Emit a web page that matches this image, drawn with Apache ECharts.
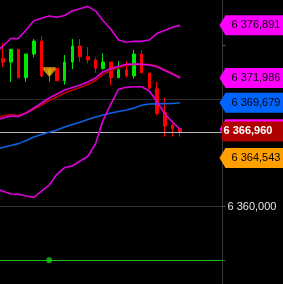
<!DOCTYPE html>
<html>
<head>
<meta charset="utf-8">
<style>
html,body{margin:0;padding:0;background:#000;}
#chart{width:283px;height:284px;}
</style>
<script src="https://cdn.jsdelivr.net/npm/echarts@6/dist/echarts.min.js"></script>
</head>
<body>
<div id="chart"></div>
<script>
// Categories (bar slots); slot 0 is just off-screen on the left
const categories = ['1','2','3','4','5','6','7','8','9','10','11','12','13','14','15','16','17','18','19','20','21','22','23','24','25','26','27','28','29','30'];

const opens  = [null, 6373783, 6373475, 6374659, 6372012, 6374221, 6375432, 6372264, 6372888, 6371733, 6373475, 6374966, 6373969, 6373662, 6372888, 6373475, 6372012, 6372758, 6372171, 6374221, 6372450, 6370988, 6368752, 6367578, 6367261];
const closes = [null, 6373447, 6374659, 6372012, 6374221, 6375432, 6372171, 6372730, 6371733, 6373475, 6374966, 6373969, 6373662, 6372888, 6373475, 6372012, 6372758, 6372171, 6374221, 6372478, 6371025, 6368696, 6367512, 6367261, 6366960];
const lows   = [null, 6373009, 6371640, 6372012, 6371640, 6373913, 6372080, 6371640, 6371733, 6371360, 6372823, 6373475, 6373354, 6372478, 6372730, 6371304, 6372012, 6372012, 6371919, 6372478, 6371025, 6368472, 6366515, 6366515, 6366515];
const highs  = [null, 6375245, 6374700, 6374659, 6374221, 6375618, 6375898, 6372916, 6372888, 6374127, 6375618, 6375618, 6374873, 6373913, 6374286, 6373475, 6373568, 6373568, 6374593, 6374593, 6372450, 6371640, 6370149, 6367764, 6367261];

const bbUpper  = [6374360, 6374966, 6375665, 6375683, 6376457, 6377314, 6377547, 6377761, 6377640, 6377808, 6378255, 6378441, 6378665, 6378246, 6377323, 6376531, 6375525, 6375311, 6375404, 6375404, 6375525, 6376149, 6376410, 6376708, 6376891];
const bbMiddle = [6368071, 6368258, 6368444, 6368397, 6368724, 6369189, 6369655, 6370121, 6370494, 6370866, 6371099, 6371332, 6371612, 6371985, 6372571, 6372870, 6373084, 6373261, 6373289, 6373261, 6373196, 6373028, 6372683, 6372357, 6371986];
const bbLower  = [6361689, 6361438, 6361177, 6361149, 6360990, 6360869, 6361456, 6362015, 6363012, 6363646, 6363786, 6364251, 6364671, 6365835, 6368071, 6369562, 6370941, 6371118, 6371174, 6371174, 6370773, 6369776, 6368630, 6367885, 6367205];
const maRed    = [6368258, 6368444, 6368584, 6368491, 6368724, 6369096, 6369469, 6369888, 6370214, 6370587, 6370866, 6371099, 6371379, 6371752, 6372339, 6372683, 6372944, 6373168, 6373242, 6373261, 6373242, 6373075, 6372730, 6372404, 6372031];
const maBlue   = [6365323, 6365528, 6365695, 6365873, 6366161, 6366488, 6366720, 6366925, 6367140, 6367419, 6367652, 6367857, 6368118, 6368351, 6368537, 6368724, 6368863, 6369003, 6369189, 6369441, 6369562, 6369581, 6369599, 6369609, 6369679];

const signalIndex = 7;
const signalPrice = 6372544;
const signalLevel = 6355000;
const lastPrice = 6366960;

const tagValues = [6376891, 6371986, 6369679, 6367205, 6364543, 6366960];
const tagFills  = ['#ff00ff', '#ff00ff', '#0064ff', '#ff00ff', '#ffa000', '#b00000'];
const tagText   = ['#000000', '#000000', '#000000', '#000000', '#000000', '#ffffff'];
const tagKinds  = ['arrow', 'arrow', 'arrow', 'arrow', 'arrow', 'box'];

const yTickValues = { min: 6350000, max: 6380000, interval: 10000 };

function fmt(v) {
  const m = Math.floor(v / 1e6);
  const t = Math.floor((v % 1e6) / 1000);
  const u = Math.round(v % 1000);
  return m + ' ' + String(t).padStart(3, '0') + ',' + String(u).padStart(3, '0');
}

const candleData = opens.map((o, i) => o == null ? '-' : [o, closes[i], lows[i], highs[i]]);

const chart = echarts.init(document.getElementById('chart'), null, { renderer: 'canvas' });

const lineBase = { type: 'line', showSymbol: false, symbol: 'none', z: 5, animation: false, silent: true };

chart.setOption({
  backgroundColor: '#000000',
  animation: false,
  grid: { left: -8.5, right: 60.5, top: -8, bottom: -30, outerBoundsMode: 'none', containLabel: false },
  xAxis: {
    type: 'category', data: categories, boundaryGap: true, show: false
  },
  yAxis: {
    type: 'value', position: 'right', scale: true,
    min: yTickValues.min, max: yTickValues.max, interval: yTickValues.interval,
    axisLine: { show: true, lineStyle: { color: '#3a3a3a', width: 1 } },
    axisTick: { show: true, length: 3, lineStyle: { color: '#555' } },
    minorTick: { show: true, splitNumber: 2, length: 3, lineStyle: { color: '#555' } },
    splitLine: { show: true, lineStyle: { color: '#2e2e2e', width: 1 } },
    axisLabel: { color: '#e6e6e6', fontSize: 11, fontFamily: 'Liberation Sans, Arial', margin: 5, formatter: fmt }
  },
  series: [
    {
      type: 'candlestick', data: candleData, barWidth: 3, z: 3, silent: true,
      itemStyle: { color: '#00e600', color0: '#ff0000', borderColor: '#00e600', borderColor0: '#ff0000', borderWidth: 1 },
      markLine: {
        silent: true, symbol: 'none', animation: false, label: { show: false },
        data: [
          { yAxis: lastPrice, lineStyle: { color: '#b8b8b8', width: 1, type: 'solid' } },
          { yAxis: signalLevel, lineStyle: { color: '#22bb22', width: 1, type: 'solid' } }
        ]
      }
    },
    Object.assign({}, lineBase, { data: maBlue,   lineStyle: { color: '#1060e0', width: 1.6 } }),
    Object.assign({}, lineBase, { data: maRed,    lineStyle: { color: '#c00000', width: 1.6 } }),
    Object.assign({}, lineBase, { data: bbMiddle, lineStyle: { color: '#dd00dd', width: 1.6 } }),
    Object.assign({}, lineBase, { data: bbUpper,  lineStyle: { color: '#dd00dd', width: 1.6 } }),
    Object.assign({}, lineBase, { data: bbLower,  lineStyle: { color: '#dd00dd', width: 1.6 } }),
    {
      type: 'scatter', z: 8, silent: true,
      symbol: 'path://M0,0 L12,0 L12,2 L6,8 L0,2 Z', symbolSize: [12, 9],
      itemStyle: { color: '#ffa010', borderColor: '#e58a00', borderWidth: 0.8 },
      data: [[signalIndex, signalPrice]]
    },
    {
      type: 'scatter', z: 8, silent: true, symbol: 'circle', symbolSize: 6,
      itemStyle: { color: '#11cc11' },
      data: [[signalIndex, signalLevel]]
    },
    {
      type: 'custom', z: 20, clip: false, silent: true,
      data: tagValues.map(v => [0, v]),
      encode: { x: 0, y: 1 },
      renderItem: function (params, api) {
        const cs = params.coordSys;
        const x0 = cs.x + cs.width;
        const y = api.coord([0, api.value(1)])[1];
        const i = params.dataIndex;
        const txt = fmt(api.value(1));
        if (tagKinds[i] === 'box') {
          return {
            type: 'group', children: [
              { type: 'rect', shape: { x: x0 - 0.5, y: y - 10.5, width: 70, height: 20, r: [3, 0, 0, 3] }, style: { fill: tagFills[i] } },
              { type: 'text', style: { text: txt, x: x0 + 1, y: y - 0.5, verticalAlign: 'middle', fill: tagText[i], font: 'bold 11px "Liberation Sans", Arial' } }
            ]
          };
        }
        return {
          type: 'group', children: [
            { type: 'polygon', shape: { points: [[x0 - 3, y], [x0 + 3, y - 10], [x0 + 70, y - 10], [x0 + 70, y + 10], [x0 + 3, y + 10]] }, style: { fill: tagFills[i] } },
            { type: 'text', style: { text: txt, x: x0 + 9, y: y, verticalAlign: 'middle', fill: tagText[i], font: '11px "Liberation Sans", Arial' } }
          ]
        };
      }
    }
  ]
});
</script>
</body>
</html>
